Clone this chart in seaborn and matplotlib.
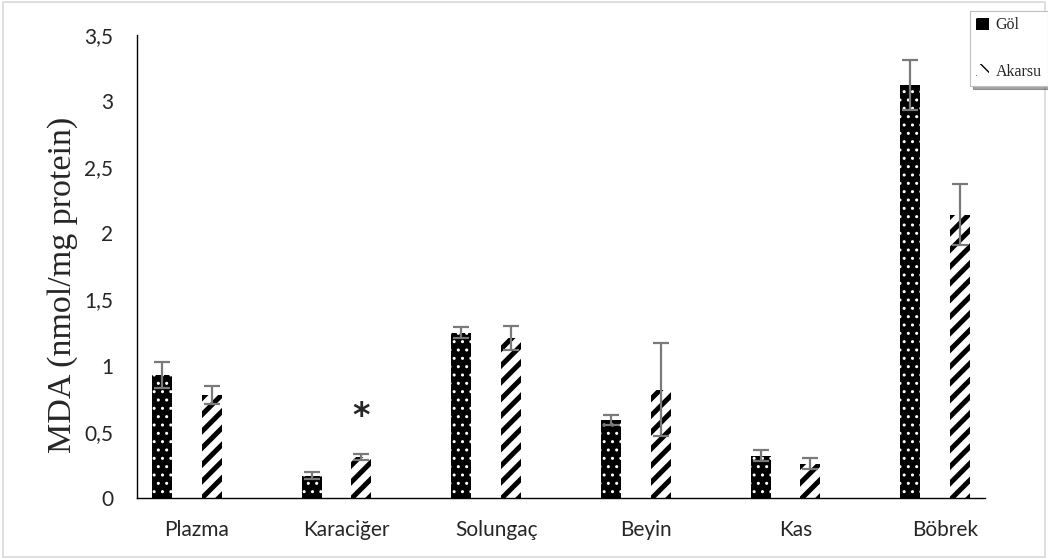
import matplotlib
matplotlib.use("Agg")
import matplotlib.pyplot as plt
import numpy as np
import pandas as pd
import seaborn as sns
from matplotlib.patches import Rectangle, Patch
from matplotlib.ticker import FixedLocator, FuncFormatter

organs = ["Plazma", "Karaciğer", "Solungaç", "Beyin", "Kas", "Böbrek"]
sources = ["Göl", "Akarsu"]
gol_mean = [0.93, 0.17, 1.25, 0.59, 0.32, 3.12]
gol_err = [0.10, 0.03, 0.04, 0.035, 0.04, 0.19]
akarsu_mean = [0.78, 0.31, 1.21, 0.82, 0.26, 2.14]
akarsu_err = [0.07, 0.025, 0.09, 0.35, 0.04, 0.23]
signif = [False, True, False, False, False, False]

sns.set_style("white")
plt.rcParams["font.family"] = ["Lato", "DejaVu Sans"]
plt.rcParams["hatch.linewidth"] = 1.0

# each organ uses three slots: Göl, Akarsu, gap
rows = []
for i, org in enumerate(organs):
    rows.append({"pos": 3 * i + 0.5, "value": gol_mean[i], "err": gol_err[i], "kaynak": "Göl"})
    rows.append({"pos": 3 * i + 1.5, "value": akarsu_mean[i], "err": akarsu_err[i], "kaynak": "Akarsu"})
df = pd.DataFrame(rows)

fig = plt.figure(figsize=(10.48, 5.59), dpi=100)
ax = fig.add_axes([137 / 1048, 1 - 498 / 559, 848 / 1048, 463 / 559])

sns.barplot(data=df, x="pos", y="value", hue="kaynak", hue_order=sources,
            native_scale=True, dodge=False, width=0.4, errorbar=None,
            legend=False, ax=ax)

styles = {"Göl": dict(face="black", edge="white", hatch="..", hlw=1.0),
          "Akarsu": dict(face="white", edge="black", hatch="//", hlw=3.6)}


def style_patch(p, st):
    p.set_facecolor(st["face"])
    p.set_edgecolor(st["edge"])
    p.set_linewidth(0)
    p.set_hatch(st["hatch"])
    if hasattr(p, "set_hatch_linewidth"):
        p.set_hatch_linewidth(st["hlw"])


for cont, src in zip(ax.containers, sources):
    for bar in cont:
        if bar.get_height() == 0 or np.isnan(bar.get_height()):
            continue
        style_patch(bar, styles[src])

ax.errorbar(df["pos"], df["value"], yerr=df["err"], fmt="none",
            ecolor="#7a7a7a", elinewidth=1.6, capsize=6, capthick=1.6, zorder=5)

for i, s in enumerate(signif):
    if s:
        ax.text(3 * i + 1.5, akarsu_mean[i] + akarsu_err[i] + 0.28, "*",
                ha="center", va="center", fontsize=24, fontweight="bold",
                family="DejaVu Sans")

ax.set_xlim(0, 17)
ax.set_ylim(0, 3.5)
ax.yaxis.set_major_locator(FixedLocator(np.arange(0, 3.51, 0.5)))
ax.yaxis.set_major_formatter(FuncFormatter(lambda v, p: f"{v:g}".replace(".", ",")))
ax.set_xticks([3 * i + 1.2 for i in range(len(organs))])
ax.set_xticklabels(organs)
ax.set_xticks(np.arange(0, 18), minor=True)
ax.tick_params(axis="x", which="major", length=0, pad=16, labelsize=15)
ax.tick_params(axis="x", which="minor", length=6, width=1, direction="out", color="black")
ax.tick_params(axis="y", which="major", length=5, width=1, direction="out",
               color="black", labelsize=15, pad=12)
ax.set_xlabel("")
ax.set_ylabel("MDA (nmol/mg protein)", fontsize=24.5, family="Liberation Serif")
ax.yaxis.set_label_coords(-0.069, 0.46)

sns.despine(ax=ax)
for sp in ["left", "bottom"]:
    ax.spines[sp].set_color("black")
    ax.spines[sp].set_linewidth(1)

h_gol = Patch()
style_patch(h_gol, dict(face="black", edge="white", hatch=".", hlw=1.0))
h_ak = Patch()
style_patch(h_ak, dict(face="white", edge="black", hatch="\\\\", hlw=2.0))
leg = fig.legend([h_gol, h_ak], sources, loc="upper left",
                 bbox_to_anchor=(970 / 1048, 1 - 11 / 559),
                 frameon=True, fancybox=False, shadow=True,
                 prop={"family": "Liberation Serif", "size": 11.5},
                 labelspacing=1.9, handlelength=0.8, handleheight=0.8,
                 handletextpad=0.4, borderpad=0.4, borderaxespad=0)
leg.get_frame().set_edgecolor("#bfbfbf")
leg.get_frame().set_linewidth(0.8)

fig.patches.append(Rectangle((0.003, 0.003), 0.994, 0.994, transform=fig.transFigure,
                             fill=False, edgecolor="#d9d9d9", linewidth=1.2))

fig.savefig("out.png", dpi=100)
